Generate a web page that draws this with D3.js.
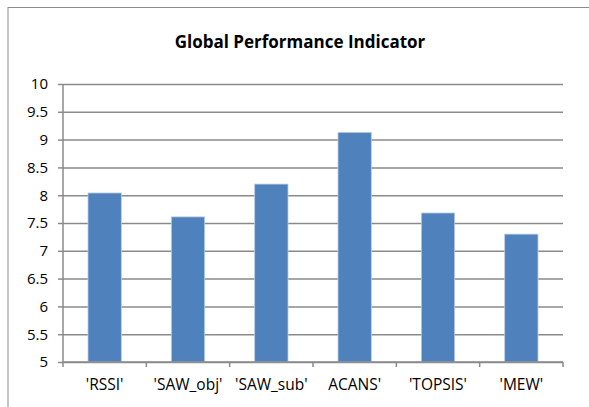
<!DOCTYPE html>
<html>
<head>
<meta charset="utf-8">
<script src="https://cdn.jsdelivr.net/npm/d3@7"></script>
<style>
  body { margin: 0; background: #fff; }
  text { font-family: "Open Sans", Lato, sans-serif; fill: #000; }
</style>
</head>
<body>
<div id="content"></div>
<script>
// chart data
const categories = ["'RSSI'", "'SAW_obj'", "'SAW_sub'", "ACANS'", "'TOPSIS'", "'MEW'"];
const values = [8.04, 7.61, 8.2, 9.13, 7.68, 7.3];
const yTicks = [5, 5.5, 6, 6.5, 7, 7.5, 8, 8.5, 9, 9.5, 10];

const svg = d3.select("#content")
  .append("svg")
  .attr("width", 589)
  .attr("height", 407);

const margin = { top: 84, right: 26, bottom: 45, left: 63 };
const width = 589 - margin.left - margin.right;
const height = 407 - margin.top - margin.bottom;

// outer frame
svg.append("rect")
  .attr("x", 8).attr("y", 7.5)
  .attr("width", 600).attr("height", 420)
  .attr("fill", "none")
  .attr("stroke", "#8c8c8c")
  .attr("stroke-width", 1);

svg.append("text")
  .attr("x", 300)
  .attr("y", 48)
  .attr("text-anchor", "middle")
  .style("font-weight", "bold")
  .style("font-size", "17px")
  .text("Global Performance Indicator");

const x = d3.scaleBand().domain(categories).range([0, width]).paddingInner(0.6).paddingOuter(0.3);
const y = d3.scaleLinear().domain([5, 10]).range([height, 0]);

const g = svg.append("g")
  .attr("transform", "translate(" + margin.left + "," + margin.top + ")");

// gridlines
g.append("g")
  .attr("class", "grid")
  .call(d3.axisLeft(y).tickValues(yTicks).tickSize(-width).tickFormat(""))
  .call(s => s.select(".domain").remove())
  .call(s => s.selectAll("line").attr("stroke", "#8a8a8a").attr("stroke-width", 1.5));

g.selectAll("rect.bar")
  .data(values)
  .enter()
  .append("rect")
  .attr("class", "bar")
  .attr("x", (d, i) => x(categories[i]))
  .attr("y", d => y(d))
  .attr("width", x.bandwidth())
  .attr("height", d => height - y(d))
  .attr("fill", "#4f81bd")
  .attr("stroke", "#b9cde5")
  .attr("stroke-width", 0.8);

// y axis
const yAxis = g.append("g")
  .call(d3.axisLeft(y).tickValues(yTicks).tickSize(5).tickPadding(10).tickFormat(d3.format("")));
yAxis.select(".domain").attr("stroke", "#8a8a8a").attr("stroke-width", 1.5).attr("d", "M0,0V" + height);
yAxis.selectAll("line").attr("stroke", "#8a8a8a").attr("stroke-width", 1.5);
yAxis.selectAll("text").style("font-size", "15px").style("font-family", "'Open Sans', sans-serif");

// x axis, ticks at category boundaries
const step = x.step();
const xAxis = g.append("g").attr("transform", "translate(0," + height + ")");
xAxis.append("line")
  .attr("x1", 0).attr("x2", width)
  .attr("stroke", "#8a8a8a").attr("stroke-width", 1.5);
xAxis.selectAll("line.tick")
  .data(d3.range(categories.length + 1))
  .enter()
  .append("line")
  .attr("class", "tick")
  .attr("x1", i => i * step).attr("x2", i => i * step)
  .attr("y1", 0).attr("y2", 5)
  .attr("stroke", "#8a8a8a").attr("stroke-width", 1.5);
xAxis.selectAll("text")
  .data(categories)
  .enter()
  .append("text")
  .attr("x", d => x(d) + x.bandwidth() / 2)
  .attr("y", 28)
  .attr("text-anchor", "middle")
  .style("font-size", "15.5px")
  .text(d => d);
</script>
</body>
</html>
